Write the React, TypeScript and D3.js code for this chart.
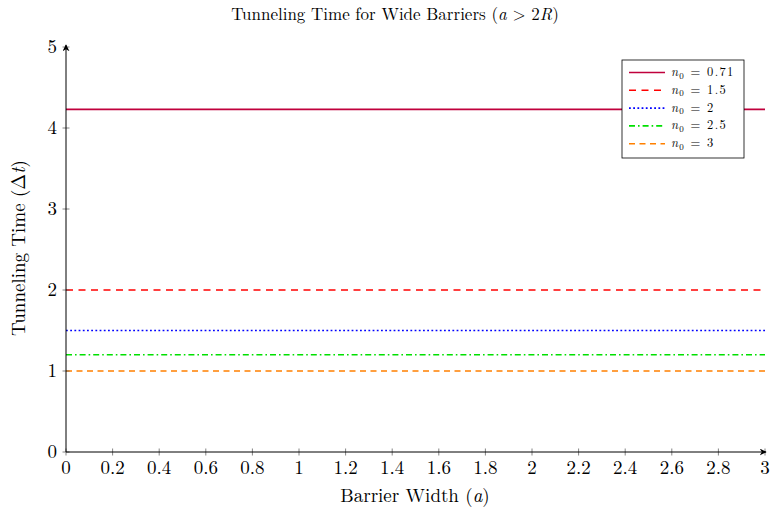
import React, { useEffect, useRef } from "react";
import * as d3 from "d3";

const width = 772;
const height = 509;

// series: constant tunneling time per n0
const seriesLabels = ["0.71", "1.5", "2", "2.5", "3"];
const seriesValues = [4.23, 2, 1.5, 1.2, 1];
const seriesColors = ["#c0003c", "#ff0000", "#0000ff", "#00e000", "#ff8000"];
const seriesDash = ["", "7,5.5", "1.8,2.4", "6,3,1.6,3", "6,4.5"];
const xDomain = [0, 3];
const yDomain = [0, 5];
const xTicks = [0, 0.2, 0.4, 0.6, 0.8, 1, 1.2, 1.4, 1.6, 1.8, 2, 2.2, 2.4, 2.6, 2.8, 3];
const yTicks = [0, 1, 2, 3, 4, 5];

const font = "'Latin Modern Roman', 'CMU Serif', 'Liberation Serif', serif";

const App = () => {
  const svgRef = useRef<SVGSVGElement>(null);

  useEffect(() => {
    const svg = d3.select(svgRef.current);
    svg.selectAll("*").remove();

    const margin = { top: 47, right: 7, bottom: 57, left: 66 };
    const innerWidth = width - margin.left - margin.right;
    const innerHeight = height - margin.top - margin.bottom;

    const xScale = d3.scaleLinear().domain(xDomain).range([0, innerWidth]);
    const yScale = d3.scaleLinear().domain(yDomain).range([innerHeight, 0]);

    const defs = svg.append("defs");
    defs
      .append("marker")
      .attr("id", "arrow")
      .attr("viewBox", "0 0 10 10")
      .attr("refX", 9)
      .attr("refY", 5)
      .attr("markerWidth", 7)
      .attr("markerHeight", 7)
      .attr("markerUnits", "userSpaceOnUse")
      .attr("orient", "auto")
      .append("path")
      .attr("d", "M0,0 L10,5 L0,10 L3,5 Z")
      .attr("fill", "#000");

    const g = svg.append("g").attr("transform", `translate(${margin.left},${margin.top})`);

    // series lines
    seriesValues.forEach((v, i) => {
      g.append("line")
        .attr("x1", xScale(xDomain[0]))
        .attr("x2", xScale(xDomain[1]))
        .attr("y1", yScale(v))
        .attr("y2", yScale(v))
        .attr("stroke", seriesColors[i])
        .attr("stroke-width", 1.6)
        .attr("stroke-dasharray", seriesDash[i]);
    });

    // ticks
    xTicks.forEach((t) => {
      g.append("line")
        .attr("x1", xScale(t))
        .attr("x2", xScale(t))
        .attr("y1", innerHeight - 3.5)
        .attr("y2", innerHeight + 3.5)
        .attr("stroke", "#666")
        .attr("stroke-width", 0.8);
      g.append("text")
        .attr("x", xScale(t))
        .attr("y", innerHeight + 22)
        .attr("text-anchor", "middle")
        .style("font-family", font)
        .style("font-size", "19px")
        .text(t);
    });
    yTicks.forEach((t) => {
      g.append("line")
        .attr("x1", -3.5)
        .attr("x2", 3.5)
        .attr("y1", yScale(t))
        .attr("y2", yScale(t))
        .attr("stroke", "#666")
        .attr("stroke-width", 0.8);
      g.append("text")
        .attr("x", -9)
        .attr("y", yScale(t) + 6)
        .attr("text-anchor", "end")
        .style("font-family", font)
        .style("font-size", "19px")
        .text(t);
    });

    // axes with arrows
    g.append("line")
      .attr("x1", 0)
      .attr("x2", innerWidth + 1)
      .attr("y1", innerHeight)
      .attr("y2", innerHeight)
      .attr("stroke", "#000")
      .attr("stroke-width", 1)
      .attr("marker-end", "url(#arrow)");
    g.append("line")
      .attr("x1", 0)
      .attr("x2", 0)
      .attr("y1", innerHeight)
      .attr("y2", -2)
      .attr("stroke", "#000")
      .attr("stroke-width", 1)
      .attr("marker-end", "url(#arrow)");

    // title
    const title = svg
      .append("text")
      .attr("x", 395)
      .attr("y", 20)
      .attr("text-anchor", "middle")
      .style("font-family", font)
      .style("font-size", "17px");
    title.append("tspan").text("Tunneling Time for Wide Barriers (");
    title.append("tspan").style("font-style", "italic").text("a");
    title.append("tspan").text(" > 2");
    title.append("tspan").style("font-style", "italic").text("R");
    title.append("tspan").text(")");

    // x label
    const xl = svg
      .append("text")
      .attr("x", 415)
      .attr("y", 502)
      .attr("text-anchor", "middle")
      .style("font-family", font)
      .style("font-size", "19px");
    xl.append("tspan").text("Barrier Width (");
    xl.append("tspan").style("font-style", "italic").text("a");
    xl.append("tspan").text(")");

    // y label
    const yl = svg
      .append("text")
      .attr("transform", `translate(25,${margin.top + 201}) rotate(-90)`)
      .attr("text-anchor", "middle")
      .style("font-family", font)
      .style("font-size", "19px");
    yl.append("tspan").text("Tunneling Time (Δ");
    yl.append("tspan").style("font-style", "italic").text("t");
    yl.append("tspan").text(")");

    // legend
    const lg = svg.append("g").attr("transform", "translate(622,60)");
    lg.append("rect")
      .attr("width", 122)
      .attr("height", 98)
      .attr("fill", "#fff")
      .attr("stroke", "#000")
      .attr("stroke-width", 0.8);
    seriesLabels.forEach((lab, i) => {
      const y = 12.5 + i * 17.8;
      lg.append("line")
        .attr("x1", 7)
        .attr("x2", 43)
        .attr("y1", y)
        .attr("y2", y)
        .attr("stroke", seriesColors[i])
        .attr("stroke-width", 1.6)
        .attr("stroke-dasharray", seriesDash[i]);
      const t = lg
        .append("text")
        .attr("x", 49)
        .attr("y", y + 3.5)
        .style("font-family", font)
        .style("font-size", "12.5px")
        .style("letter-spacing", "1.3px");
      t.append("tspan").style("font-style", "italic").text("n");
      t.append("tspan").attr("dy", 2.5).style("font-size", "9px").text("0");
      t.append("tspan").attr("dy", -2.5).text(` = ${lab}`);
    });
  }, []);

  return <svg ref={svgRef} width={width} height={height} style={{ display: "block", position: "absolute", left: 0, top: 0 }}></svg>;
};

export default App;
